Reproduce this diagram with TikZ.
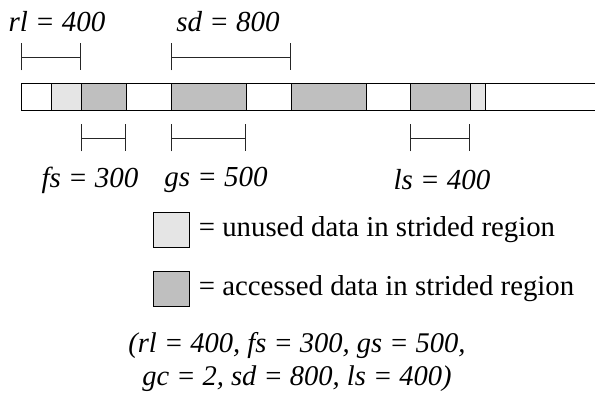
\documentclass[tikz,border=0pt]{standalone}
\usepackage{fontspec}
\setmainfont{Liberation Serif}
\usetikzlibrary{arrows.meta,positioning}

\begin{document}
\begin{tikzpicture}[x=1pt, y=1pt, line width=0.9pt,
    unused/.style={fill=black!10},
    accessed/.style={fill=black!25},
    dimline/.style={{Bar[width=27pt]}-{Bar[width=27pt]}, line width=0.8pt, black!85},
    lbl/.style={font=\fontsize{29}{33}\selectfont\itshape, inner sep=0pt},
    txt/.style={font=\fontsize{28.8}{33}\selectfont, inner sep=0pt},
    keybox/.style={draw, minimum width=36pt, minimum height=35pt, inner sep=0pt}]
  \useasboundingbox (0,0) rectangle (595,398);

  % --- strided bar ---
  \foreach \a/\b/\s in {21/51/, 51/81/unused, 81/126/accessed, 126/171/,
                        171/246/accessed, 246/291/, 291/366/accessed,
                        366/410/, 410/470/accessed, 470/485/unused}
    \draw[\s] (\a,288) rectangle (\b,315);
  \draw (485,288) -- (595,288) (485,315) -- (595,315);

  % --- dimensions above ---
  \coordinate (rlA) at (21,341);  \coordinate (rlB) at (81,341);
  \coordinate (sdA) at (171,341); \coordinate (sdB) at (291,341);
  \draw[dimline] (rlA) -- (rlB);
  \draw[dimline] (sdA) -- (sdB);
  \node[lbl] (rl) at (57,376) {rl = 400};
  \node[lbl] (sd) at (228,376) {sd = 800};

  % --- dimensions below ---
  \coordinate (fsA) at (81,260);  \coordinate (fsB) at (126,260);
  \coordinate (gsA) at (171,260); \coordinate (gsB) at (246,260);
  \coordinate (lsA) at (410,260); \coordinate (lsB) at (470,260);
  \draw[dimline] (fsA) -- (fsB);
  \draw[dimline] (gsA) -- (gsB);
  \draw[dimline] (lsA) -- (lsB);
  \node[lbl] (fs) at (90,218) {fs = 300};
  \node[lbl] (gs) at (216,218) {gs = 500};
  \node[lbl] (ls) at (442,218) {ls = 400};

  % --- key ---
  \node[keybox, unused] (keyunused) at (171,168.5) {};
  \node[txt, right=9pt of keyunused] (keyunusedtxt) {= unused data in strided region};
  \node[keybox, accessed] (keyaccessed) at (171,109) {};
  \node[txt, right=9pt of keyaccessed] (keyaccessedtxt) {= accessed data in strided region};

  % --- parameters ---
  \node[lbl, align=center, font=\fontsize{28.5}{33}\selectfont\itshape] (params) at (297,36)
    {(rl = 400, fs = 300, gs = 500,\\ gc = 2, sd = 800, ls = 400)};
\end{tikzpicture}
\end{document}
